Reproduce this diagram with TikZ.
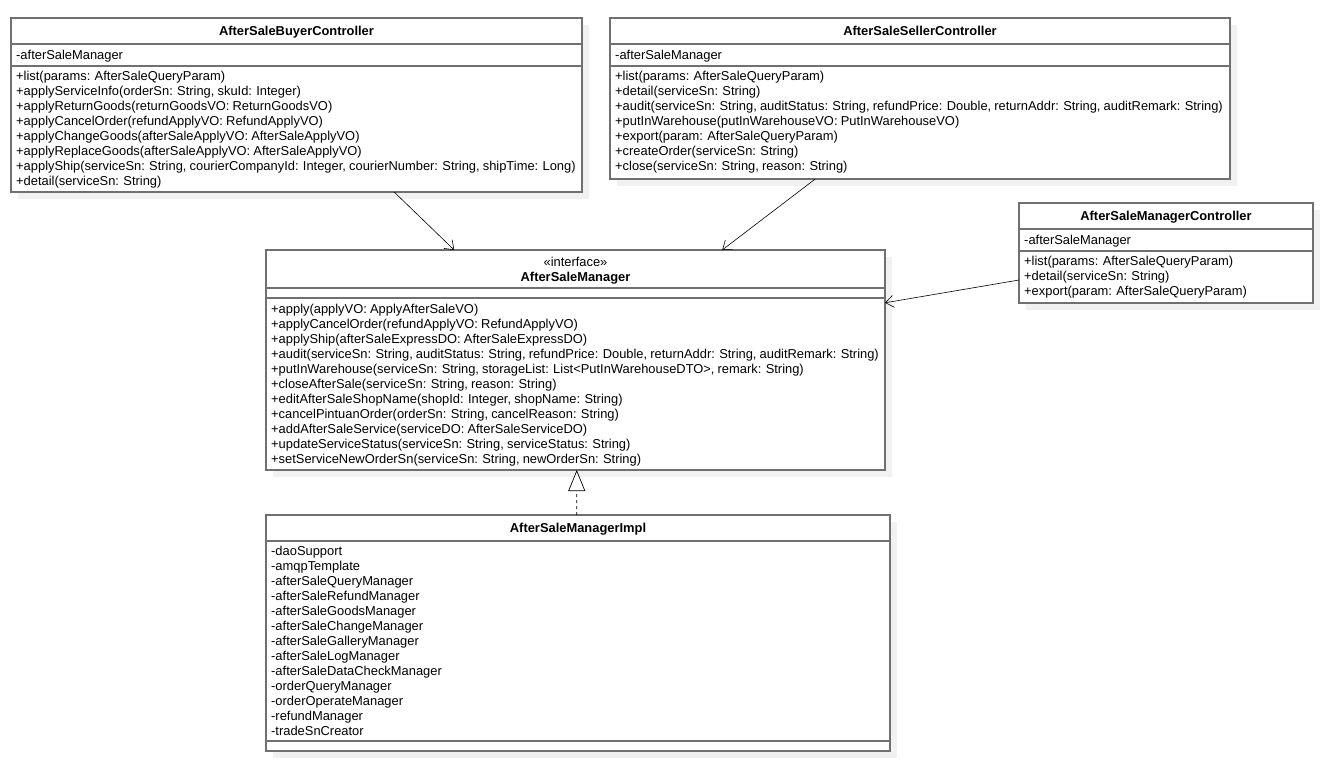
\documentclass[tikz,border=0pt]{standalone}
\usepackage{fontspec}
\setmainfont[WordSpace=0.88]{Liberation Sans}
\usetikzlibrary{arrows.meta,calc,shadows}
\definecolor{boxgray}{HTML}{707070}
\definecolor{shadowgray}{HTML}{F1F1F1}
\newcommand\mylines[4]{%
  \foreach \mytext [count=\i] in {#4} {
    \node[txt] (#1\i) at (#2, {#3+(\i-1)*15}) {\mytext};
  }%
}
\begin{document}
\begin{tikzpicture}[x=1pt,y=-1pt,
  cls/.style={draw=boxgray, line width=1.2pt, fill=white, inner sep=0pt, outer sep=0pt, anchor=north west,
    drop shadow={shadow xshift=7pt, shadow yshift=-7pt, fill=shadowgray, opacity=1}},
  div/.style={draw=boxgray, line width=1.2pt},
  txt/.style={anchor=base west, inner sep=0pt, font=\fontsize{12.9}{15}\selectfont},
  ttl/.style={anchor=base, inner sep=0pt, font=\fontsize{12.9}{15}\selectfont\bfseries},
  stereo/.style={anchor=base, inner sep=0pt, font=\fontsize{12.9}{15}\selectfont},
  dep/.style={-{Straight Barb[length=8pt,width=12pt]}, line width=0.6pt, black},
  real/.style={dash pattern=on 3pt off 3pt, -{Triangle[open, length=21pt, width=17pt, fill=white]}, line width=0.7pt, black}
]
\useasboundingbox (0,0) rectangle (1332,766);

% ---------- AfterSaleBuyerController ----------
\node[cls, minimum width=571pt, minimum height=174pt] (buyer) at (11,18) {};
\draw[div] (11,44) -- (582,44);
\draw[div] (11,66) -- (582,66);
\node[ttl] (buyert) at (296.5,35.5) {AfterSaleBuyerController};
\node[txt] (buyera) at (16,59.5) {-afterSaleManager};
\mylines{buyerm}{16}{80.5}{{+list(params: AfterSaleQueryParam)},
 {+applyServiceInfo(orderSn: String, skuId: Integer)},
 {+applyReturnGoods(returnGoodsVO: ReturnGoodsVO)},
 {+applyCancelOrder(refundApplyVO: RefundApplyVO)},
 {+applyChangeGoods(afterSaleApplyVO: AfterSaleApplyVO)},
 {+applyReplaceGoods(afterSaleApplyVO: AfterSaleApplyVO)},
 {+applyShip(serviceSn: String, courierCompanyId: Integer, courierNumber: String, shipTime: Long)},
 {+detail(serviceSn: String)}}

% ---------- AfterSaleSellerController ----------
\node[cls, minimum width=620pt, minimum height=161pt] (seller) at (610,18) {};
\draw[div] (610,44) -- (1230,44);
\draw[div] (610,66) -- (1230,66);
\node[ttl] (sellert) at (920,35.5) {AfterSaleSellerController};
\node[txt] (sellera) at (615,59.5) {-afterSaleManager};
\mylines{sellerm}{615}{80.5}{{+list(params: AfterSaleQueryParam)},
 {+detail(serviceSn: String)},
 {+audit(serviceSn: String, auditStatus: String, refundPrice: Double, returnAddr: String, auditRemark: String)},
 {+putInWarehouse(putInWarehouseVO: PutInWarehouseVO)},
 {+export(param: AfterSaleQueryParam)},
 {+createOrder(serviceSn: String)},
 {+close(serviceSn: String, reason: String)}}

% ---------- AfterSaleManagerController ----------
\node[cls, minimum width=294pt, minimum height=100pt] (mctl) at (1019,203) {};
\draw[div] (1019,229) -- (1313,229);
\draw[div] (1019,251) -- (1313,251);
\node[ttl] (mctlt) at (1166,220.5) {AfterSaleManagerController};
\node[txt] (mctla) at (1024,244) {-afterSaleManager};
\mylines{mctlm}{1024}{265.5}{{+list(params: AfterSaleQueryParam)},
 {+detail(serviceSn: String)},
 {+export(param: AfterSaleQueryParam)}}

% ---------- AfterSaleManager (interface) ----------
\node[cls, minimum width=619pt, minimum height=220pt] (mgr) at (266,250) {};
\draw[div] (266,288) -- (885,288);
\draw[div] (266,298) -- (885,298);
\node[stereo] (mgrs) at (575.5,266.5) {«interface»};
\node[ttl] (mgrt) at (575.5,281.5) {AfterSaleManager};
\mylines{mgrm}{271}{313.5}{{+apply(applyVO: ApplyAfterSaleVO)},
 {+applyCancelOrder(refundApplyVO: RefundApplyVO)},
 {+applyShip(afterSaleExpressDO: AfterSaleExpressDO)},
 {+audit(serviceSn: String, auditStatus: String, refundPrice: Double, returnAddr: String, auditRemark: String)},
 {+putInWarehouse(serviceSn: String, storageList: List<PutInWarehouseDTO>, remark: String)},
 {+closeAfterSale(serviceSn: String, reason: String)},
 {+editAfterSaleShopName(shopId: Integer, shopName: String)},
 {+cancelPintuanOrder(orderSn: String, cancelReason: String)},
 {+addAfterSaleService(serviceDO: AfterSaleServiceDO)},
 {+updateServiceStatus(serviceSn: String, serviceStatus: String)},
 {+setServiceNewOrderSn(serviceSn: String, newOrderSn: String)}}

% ---------- AfterSaleManagerImpl ----------
\node[cls, minimum width=624pt, minimum height=236pt] (impl) at (266,515) {};
\draw[div] (266,541) -- (890,541);
\draw[div] (266,741) -- (890,741);
\node[ttl] (implt) at (578,532.5) {AfterSaleManagerImpl};
\mylines{impla}{271}{555}{{-daoSupport},
 {-amqpTemplate},
 {-afterSaleQueryManager},
 {-afterSaleRefundManager},
 {-afterSaleGoodsManager},
 {-afterSaleChangeManager},
 {-afterSaleGalleryManager},
 {-afterSaleLogManager},
 {-afterSaleDataCheckManager},
 {-orderQueryManager},
 {-orderOperateManager},
 {-refundManager},
 {-tradeSnCreator}}

% ---------- connectors ----------
\draw[dep] ($(buyer.south west)!0.671!(buyer.south east)$) -- ($(mgr.north west)!0.304!(mgr.north east)$);
\draw[dep] ($(seller.south west)!0.331!(seller.south east)$) -- ($(mgr.north west)!0.737!(mgr.north east)$);
\draw[dep] ($(mctl.north west)!0.77!(mctl.south west)$) -- ($(mgr.north east)!0.24!(mgr.south east)$);
\draw[real] ($(impl.north west)!0.498!(impl.north east)$) -- ($(mgr.south west)!0.502!(mgr.south east)$);
\end{tikzpicture}
\end{document}
